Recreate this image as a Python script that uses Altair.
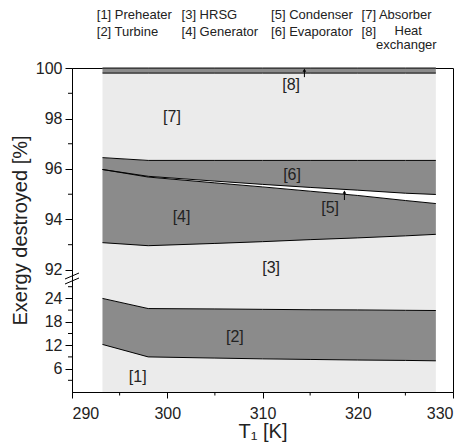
import altair as alt
import pandas as pd

# ---- data (percent of exergy destroyed, per component) ----
temps = [293.2, 298.0, 305.0, 310.0, 315.0, 320.0, 325.0, 328.2]
preheater = [12.20, 9.00, 8.70, 8.50, 8.35, 8.20, 8.10, 8.00]
turbine = [11.80, 12.40, 12.60, 12.70, 12.75, 12.85, 12.85, 12.90]
hrsg = [69.08, 71.56, 71.75, 71.92, 72.10, 72.22, 72.40, 72.51]
generator = [2.90, 2.72, 2.40, 2.17, 1.92, 1.68, 1.40, 1.22]
condenser = [0.00, 0.03, 0.07, 0.10, 0.15, 0.21, 0.29, 0.36]
evaporator = [0.47, 0.63, 0.82, 0.95, 1.07, 1.18, 1.30, 1.35]
absorber = [3.35, 3.46, 3.46, 3.46, 3.46, 3.46, 3.46, 3.46]
heat_exchanger = [0.20, 0.20, 0.20, 0.20, 0.20, 0.20, 0.20, 0.20]

components = ["Preheater", "Turbine", "HRSG", "Generator", "Condenser",
              "Evaporator", "Absorber", "Heat exchanger"]
fills = ["#ebebeb", "#8b8b8b", "#ebebeb", "#8b8b8b", "#ffffff",
         "#8b8b8b", "#ebebeb", "#8b8b8b"]
series = [preheater, turbine, hrsg, generator, condenser, evaporator,
          absorber, heat_exchanger]

# in-plot tags
tag_text = ["[1]", "[2]", "[3]", "[4]", "[5]", "[6]", "[7]", "[8]"]
tag_T = [296.9, 307.1, 310.9, 301.5, 317.1, 313.1, 300.5, 313.0]
tag_v = [3.9, 14.0, 92.08, 94.1, 94.45, 95.76, 98.06, 99.33]

# small arrows next to [5] and [8]
arrow_T = [318.6, 314.4]
arrow_from = [94.77, 99.64]
arrow_to = [95.08, 99.92]

# legend text block above the plot (three text rows)
legend_row1 = ["[1] Preheater", "[3] HRSG", "[5] Condenser", "[7] Absorber"]
legend_row2 = ["[2] Turbine", "[4] Generator", "[6] Evaporator", "[8]"]
legend_T = [292.6, 301.5, 310.9, 320.4]
legend_heat = ["Heat"]
legend_exchanger = ["exchanger"]
legend_heat_T = [325.3]
legend_exchanger_T = [325.1]

y_major = [6, 12, 18, 24, 92, 94, 96, 98, 100]
y_minor = [3, 9, 15, 21, 27, 93, 95, 97, 99]
x_major = [290, 300, 310, 320, 330]
x_minor = [295, 305, 315, 325]

# ---- broken axis mapping (lower 0..28.7, upper 91.6..100) ----
H = 324
LOW_K, BREAK, UP_START = 3.9, 112.0, 91.6
UP_K = round((H - BREAK) / (100 - UP_START), 6)


def disp(v):
    return v * LOW_K if v <= 50 else BREAK + (v - UP_START) * UP_K


def expr(f):
    return (f"datum.{f} <= 50 ? datum.{f} * {LOW_K} : "
            f"{BREAK} + (datum.{f} - {UP_START}) * {UP_K}")


label_expr = (f"format(datum.value < {BREAK} ? datum.value / {LOW_K} : "
              f"{UP_START} + (datum.value - {BREAK}) / {UP_K}, '.0f')")

rows = []
for i, (name, vals) in enumerate(zip(components, series)):
    for t, v in zip(temps, vals):
        rows.append({"T": t, "comp": name, "order": i, "val": v})
df = pd.DataFrame(rows)

FONT = "Liberation Sans"
TXT = "#222222"
xscale = alt.Scale(domain=[290, 330], nice=False, zero=False)
yscale = alt.Scale(domain=[0, H + 0.05], nice=False, zero=False)
AX_X = alt.Axis(values=x_major, title="T₁ [K]", tickSize=6, labelPadding=7,
                grid=False, format=".0f", titleY=29.5)
AX_Y = alt.Axis(values=[disp(v) for v in y_major], labelExpr=label_expr,
                title="Exergy destroyed [%]", tickSize=7, labelPadding=3,
                grid=False, titlePadding=5)
X = alt.X("T:Q", scale=xscale, axis=AX_X)


def Y(field):
    return alt.Y(field, type="quantitative", scale=yscale, axis=AX_Y, stack=None)


base = alt.Chart(df).transform_stack(
    stack="val", groupby=["T"], as_=["v0", "v1"],
    sort=[alt.SortField("order", order="ascending")]
).transform_calculate(d0=expr("v0"), d1=expr("v1"))

areas = base.mark_area(interpolate="linear").encode(
    x=X, y=Y("d0"), y2="d1:Q",
    color=alt.Color("comp:N", scale=alt.Scale(domain=components, range=fills),
                    legend=None),
)

lines = base.mark_line(color="black", strokeWidth=1).encode(
    x=X, y=Y("d1"), detail="comp:N",
)

tags_df = pd.DataFrame({"text": tag_text, "T": tag_T, "v": tag_v})
tags = alt.Chart(tags_df).transform_calculate(d=expr("v")).mark_text(
    font=FONT, fontSize=16, color=TXT, baseline="middle"
).encode(x=X, y=Y("d"), text="text:N")

arr_df = pd.DataFrame({"T": arrow_T, "a": arrow_from, "b": arrow_to})
arr_base = alt.Chart(arr_df).transform_calculate(da=expr("a"), db=expr("b"))
arrow_lines = arr_base.mark_rule(color="black", strokeWidth=1).encode(
    x=X, y=Y("da"), y2="db:Q",
)
arrow_heads = arr_base.mark_point(shape="triangle-up", filled=True,
                                  color="black", size=14, opacity=1).encode(
    x=X, y=Y("db"),
)

ymin_df = pd.DataFrame({"v": y_minor})
y_minor_ticks = alt.Chart(ymin_df).transform_calculate(d=expr("v")).mark_rule(
    color="black", strokeWidth=1
).encode(y=Y("d"), x=alt.value(-4), x2=alt.value(0))

xmin_df = pd.DataFrame({"T": x_minor})
x_minor_ticks = alt.Chart(xmin_df).mark_rule(color="black", strokeWidth=1).encode(
    x=X, y=alt.value(H), y2=alt.value(H + 3.5),
)

# axis break marks (decoration on the left axis line)
brk_df = pd.DataFrame({"k": [0]})
break1 = alt.Chart(brk_df).mark_rule(color="black", strokeWidth=1).encode(
    x=alt.value(-7), x2=alt.value(7), y=alt.value(211), y2=alt.value(205),
)
break2 = alt.Chart(brk_df).mark_rule(color="black", strokeWidth=1).encode(
    x=alt.value(-7), x2=alt.value(7), y=alt.value(216), y2=alt.value(210),
)


def text_row(texts, ts, py, align):
    d = pd.DataFrame({"text": texts, "T": ts})
    return alt.Chart(d).mark_text(
        font=FONT, fontSize=13, color=TXT, align=align, baseline="middle"
    ).encode(x=X, y=alt.value(py), text="text:N")


legend1 = text_row(legend_row1, legend_T, -53, "left")
legend2 = text_row(legend_row2, legend_T, -36.5, "left")
legend3 = text_row(legend_heat, legend_heat_T, -37.5, "center")
legend4 = text_row(legend_exchanger, legend_exchanger_T, -23.5, "center")

chart = alt.layer(
    areas, lines, tags, arrow_lines, arrow_heads, y_minor_ticks,
    x_minor_ticks, break1, break2, legend1, legend2, legend3, legend4
).properties(
    width=381, height=H,
    padding={"left": 72, "top": 68, "right": 13, "bottom": 54},
    autosize=alt.AutoSizeParams(type="none"),
).configure_view(
    stroke="black", strokeWidth=1
).configure_axis(
    labelFont=FONT, titleFont=FONT, labelFontSize=16, titleFontSize=20,
    titleFontWeight="normal", labelColor=TXT, titleColor=TXT,
    domainColor="black", tickColor="black", domainWidth=1, tickWidth=1,
)

chart.save("out.html", embed_options={"renderer": "svg", "actions": False})
